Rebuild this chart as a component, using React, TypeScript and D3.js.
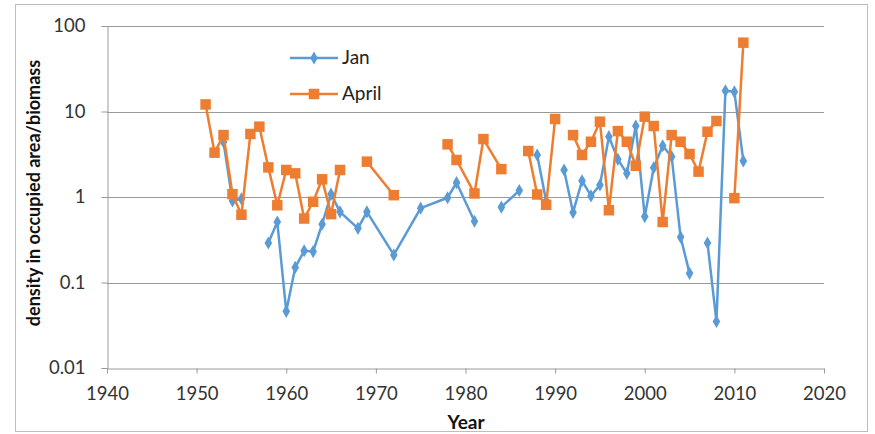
import React, { useEffect, useRef } from 'react';
import * as d3 from 'd3';

// years shared by both series; null = no value that year
const years = [
  1951, 1952, 1953, 1954, 1955, 1956, 1957, 1958, 1959, 1960, 1961, 1962, 1963, 1964, 1965, 1966,
  1968, 1969, 1972, 1975, 1978, 1979, 1981, 1982, 1984, 1986, 1987, 1988, 1989, 1990, 1991,
  1992, 1993, 1994, 1995, 1996, 1997, 1998, 1999, 2000, 2001, 2002, 2003, 2004, 2005, 2006, 2007,
  2008, 2009, 2010, 2011,
];

const jan = [
  null, null, 4.4, 0.9, 0.95, null, null, 0.29, 0.51, 0.046, 0.15, 0.235, 0.23, 0.48, 1.08, 0.67,
  0.43, 0.67, 0.21, 0.74, 0.98, 1.47, 0.52, null, 0.76, 1.19, null, 3.1, 0.9, null, 2.07,
  0.66, 1.55, 1.03, 1.38, 5.08, 2.76, 1.89, 6.76, 0.59, 2.2, 3.98, 2.96, 0.34, 0.128, null, 0.29,
  0.035, 17.5, 17, 2.64,
];

const april = [
  12.1, 3.3, 5.3, 1.08, 0.62, 5.46, 6.65, 2.22, 0.8, 2.07, 1.89, 0.56, 0.88, 1.61, 0.63, 2.07,
  null, 2.59, 1.05, null, 4.13, 2.71, 1.1, 4.76, 2.12, null, 3.45, 1.07, 0.81, 8.17, null,
  5.3, 3.1, 4.43, 7.6, 0.7, 5.9, 4.43, 2.32, 8.7, 6.76, 0.51, 5.3, 4.43, 3.18, 1.98, 5.8,
  7.74, null, 0.97, 63.8,
];

const xTicks = [1940, 1950, 1960, 1970, 1980, 1990, 2000, 2010, 2020];
const yTicks = [0.01, 0.1, 1, 10, 100];

const JAN_COLOR = '#5B9BD5';
const APRIL_COLOR = '#ED7D31';
const FONT = 'Lato, "Open Sans", sans-serif';

const App = () => {
  const svgRef = useRef<SVGSVGElement | null>(null);

  useEffect(() => {
    const width = 875;
    const height = 434;
    const left = 107;
    const right = 824;
    const top = 26;
    const bottom = 368;

    const svg = d3.select(svgRef.current);
    svg.selectAll('*').remove();
    svg.attr('width', width).attr('height', height).attr('viewBox', [0, 0, width, height]);

    svg.append('rect').attr('width', width).attr('height', height).attr('fill', '#fff');
    svg.append('rect')
      .attr('x', 15.5).attr('y', 4.5).attr('width', 852).attr('height', 427)
      .attr('fill', 'none').attr('stroke', '#bdbdbd');

    const x = d3.scaleLinear().domain([1940, 2020]).range([left, right]);
    const y = d3.scaleLog().domain([0.01, 100]).range([bottom, top]);

    // horizontal gridlines
    svg.append('g')
      .selectAll('line')
      .data(yTicks.slice(1))
      .join('line')
      .attr('x1', left).attr('x2', right)
      .attr('y1', d => Math.round(y(d)) + 0.5).attr('y2', d => Math.round(y(d)) + 0.5)
      .attr('stroke', '#9a9a9a');

    // y axis
    const yAxis = svg.append('g')
      .attr('transform', `translate(${left + 0.5},0)`)
      .call(d3.axisLeft(y).tickValues(yTicks).tickFormat(d => String(d)).tickSize(6).tickPadding(16));
    yAxis.select('.domain').attr('stroke', '#9a9a9a');
    yAxis.selectAll('line').attr('stroke', '#9a9a9a');
    yAxis.selectAll('text').attr('font-size', 18.5).attr('font-family', FONT).attr('fill', '#333');

    // x axis
    const xAxis = svg.append('g')
      .attr('transform', `translate(0,${bottom + 0.5})`)
      .call(d3.axisBottom(x).tickValues(xTicks).tickFormat(d3.format('d')).tickSize(5).tickSizeOuter(0).tickPadding(13));
    xAxis.select('.domain').attr('stroke', '#9a9a9a');
    xAxis.selectAll('line').attr('stroke', '#9a9a9a');
    xAxis.selectAll('text').attr('font-size', 18.5).attr('font-family', FONT).attr('fill', '#333');

    svg.append('text')
      .attr('x', 466).attr('y', 429)
      .attr('text-anchor', 'middle')
      .attr('font-family', FONT).attr('font-weight', 'bold').attr('font-size', 19)
      .attr('fill', '#111')
      .text('Year');

    svg.append('text')
      .attr('transform', `translate(40,193) rotate(-90)`)
      .attr('text-anchor', 'middle')
      .attr('font-family', FONT).attr('font-weight', 'bold').attr('font-size', 18)
      .attr('fill', '#111')
      .text('density in occupied area/biomass');

    const series = [
      { name: 'Jan', values: jan, color: JAN_COLOR, symbol: d3.symbolDiamond, size: 50 },
      { name: 'April', values: april, color: APRIL_COLOR, symbol: d3.symbolSquare, size: 110 },
    ];

    series.forEach(s => {
      const pts = years.map((yr, i) => ({ yr, v: s.values[i] }));
      const line = d3.line<{ yr: number; v: number | null }>()
        .defined(d => d.v != null)
        .x(d => x(d.yr))
        .y(d => y(d.v as number));

      svg.append('path')
        .datum(pts)
        .attr('fill', 'none')
        .attr('stroke', s.color)
        .attr('stroke-width', 2.5)
        .attr('stroke-linejoin', 'round')
        .attr('d', line);

      svg.append('g')
        .selectAll('path')
        .data(pts.filter(d => d.v != null))
        .join('path')
        .attr('transform', d => `translate(${x(d.yr)},${y(d.v as number)})`)
        .attr('d', d3.symbol().type(s.symbol).size(s.size)())
        .attr('fill', s.color);
    });

    // legend
    const legend = svg.append('g').attr('transform', 'translate(290,0)');
    [{ s: series[0], ly: 58 }, { s: series[1], ly: 94 }].forEach(({ s, ly }) => {
      legend.append('line')
        .attr('x1', 0).attr('x2', 48).attr('y1', ly).attr('y2', ly)
        .attr('stroke', s.color).attr('stroke-width', 2.5);
      legend.append('path')
        .attr('transform', `translate(24,${ly})`)
        .attr('d', d3.symbol().type(s.symbol).size(s.size)())
        .attr('fill', s.color);
      legend.append('text')
        .attr('x', 52).attr('y', ly + 6)
        .attr('font-family', FONT).attr('font-size', 19).attr('fill', '#222')
        .text(s.name);
    });
  }, []);

  return (
    <div style={{ position: 'absolute', left: 0, top: 0 }}>
      <svg ref={svgRef} style={{ display: 'block' }}></svg>
    </div>
  );
};

export default App;
